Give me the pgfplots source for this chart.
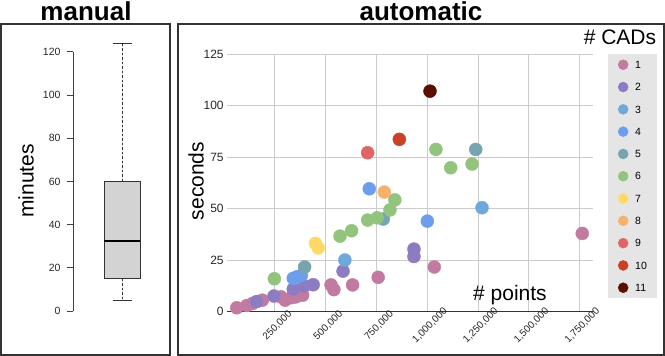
\documentclass[border=0pt]{standalone}
\usepackage{fontspec}
\setmainfont{Liberation Sans}
\usepackage{pgfplots}
\pgfplotsset{compat=1.18}
\usepgfplotslibrary{statistics}

\definecolor{c1}{HTML}{C27BA0}
\definecolor{c2}{HTML}{8E7CC3}
\definecolor{c3}{HTML}{6FA8DC}
\definecolor{c4}{HTML}{6D9EEB}
\definecolor{c5}{HTML}{76A5AF}
\definecolor{c6}{HTML}{93C47D}
\definecolor{c7}{HTML}{FFD966}
\definecolor{c8}{HTML}{F6B26B}
\definecolor{c9}{HTML}{E06666}
\definecolor{c10}{HTML}{CC4125}
\definecolor{c11}{HTML}{5B0F00}
\definecolor{frame}{HTML}{333333}
\definecolor{gridc}{HTML}{CCCCCC}
\definecolor{legbg}{HTML}{E5E5E5}
\definecolor{boxfill}{HTML}{D3D3D3}

\begin{document}
\begin{tikzpicture}
% panel frames and titles
\draw[frame, line width=1.4pt] (1pt,1pt) rectangle (170pt,332pt);
\draw[frame, line width=1.4pt] (178pt,1pt) rectangle (664pt,332pt);
\node[anchor=base, font=\fontsize{26}{28}\selectfont\bfseries] at (86pt,335pt) {manual};
\node[anchor=base, font=\fontsize{26}{28}\selectfont\bfseries] at (421pt,335pt) {automatic};
\node[rotate=90, font=\fontsize{21}{24}\selectfont] at (26pt,175pt) {minutes};
\node[rotate=90, font=\fontsize{21}{24}\selectfont] at (196pt,175pt) {seconds};
\node[anchor=base, font=\fontsize{21}{24}\selectfont] at (620pt,311pt) {\# CADs};

% manual: boxplot
\begin{axis}[at={(73pt,45pt)}, anchor=south west, scale only axis,
  width=97pt, height=259.2pt, xmin=0, xmax=97, ymin=0, ymax=120, clip=false,
  hide x axis, axis y line*=left,
  axis line style={-, black!75, line width=0.8pt},
  ytick={0,20,...,120}, tick align=outside, major tick length=6pt,
  tick style={black!75, line width=0.8pt},
  yticklabel style={xshift=-3pt, font=\fontsize{10.5}{12}\selectfont, text=black!85},
  /pgf/number format/assume math mode=true,
  boxplot/draw direction=y,
  boxplot/draw/lower whisker/.code={
    \draw[black!80, dash pattern=on 2.5pt off 2pt]
      (boxplot box cs:\pgfplotsboxplotvalue{lower quartile},0.5) --
      (boxplot box cs:\pgfplotsboxplotvalue{lower whisker},0.5);
    \draw[black!80] (boxplot whisker cs:\pgfplotsboxplotvalue{lower whisker},0) --
      (boxplot whisker cs:\pgfplotsboxplotvalue{lower whisker},1);
  },
  boxplot/draw/upper whisker/.code={
    \draw[black!80, dash pattern=on 2.5pt off 2pt]
      (boxplot box cs:\pgfplotsboxplotvalue{upper quartile},0.5) --
      (boxplot box cs:\pgfplotsboxplotvalue{upper whisker},0.5);
    \draw[black!80] (boxplot whisker cs:\pgfplotsboxplotvalue{upper whisker},0) --
      (boxplot whisker cs:\pgfplotsboxplotvalue{upper whisker},1);
  },
  boxplot/every median/.style={line width=2pt, black}]
\addplot[draw=black!80, fill=boxfill, line width=0.8pt,
  boxplot prepared={median=32.5, lower quartile=15, upper quartile=60,
    lower whisker=5, upper whisker=124, draw position=49,
    box extend=36, whisker extend=19}]
  coordinates {};
\end{axis}

% automatic: scatter
\begin{axis}[at={(227.2pt,44.3pt)}, anchor=south west, scale only axis,
  width=365.8pt, height=257.4pt,
  xmin=15000, xmax=1815000, ymin=0, ymax=125,
  xtick={250000,500000,750000,1000000,1250000,1500000,1750000},
  ytick={0,25,50,75,100,125},
  separate axis lines, axis lines*=left,
  y axis line style={draw=none},
  x axis line style={-, frame, line width=1.4pt},
  major tick length=0pt, grid=major, grid style={gridc, line width=1pt},
  scaled x ticks=false,
  xticklabel style={anchor=center, xshift=2.5pt, yshift=-14pt, rotate=45, font=\fontsize{10}{11}\selectfont, text=black!85},
  yticklabel style={font=\fontsize{12}{14}\selectfont, text=black!85},
  /pgf/number format/.cd, fixed, 1000 sep={,}, assume math mode=true, /pgfplots/.cd,
  legend style={at={(1.041,1.001)}, anchor=north west, fill=legbg, draw=none,
    font=\fontsize{10.5}{12}\selectfont, row sep=12.3pt, inner xsep=10pt, inner ysep=5.5pt,
    nodes={font=\fontsize{10.5}{12}\selectfont, inner sep=0pt, text height=7.5pt, text depth=0pt},
    /tikz/every odd column/.append style={column sep=7pt}},
  legend cell align=left,
  legend image code/.code={\draw[#1, mark size=5pt] plot coordinates {(0pt,0pt)};},
  every axis plot/.append style={only marks, mark=*, mark size=6.5pt}]
\addplot[c1, mark options={fill=c1, draw=c1}] coordinates {
  (62000,1.9) (112000,3.0) (140000,4.0) (188000,5.6)
  (280000,7.2) (300000,5.6) (330000,6.8) (352000,7.2) (386000,8.0)
  (526000,13.0) (540000,10.7) (632000,13.0) (758000,16.7)
  (1034000,21.7) (1762000,38.0)};
\addlegendentry{1}
\addplot[c2, mark options={fill=c2, draw=c2}] coordinates {
  (160000,4.9) (245000,7.6) (340000,11.0) (395000,12.5) (438000,13.1)
  (585000,19.7) (934000,30.4) (934000,26.8)};
\addlegendentry{2}
\addplot[c3, mark options={fill=c3, draw=c3}] coordinates {
  (594000,25.1) (1269000,50.5)};
\addlegendentry{3}
\addplot[c4, mark options={fill=c4, draw=c4}] coordinates {
  (340000,16.2) (360000,17.0) (380000,17.6) (714000,59.7) (1000000,44.0)};
\addlegendentry{4}
\addplot[c5, mark options={fill=c5, draw=c5}] coordinates {
  (396000,21.7) (783000,45.0) (1238000,78.8)};
\addlegendentry{5}
\addplot[c6, mark options={fill=c6, draw=c6}] coordinates {
  (247000,16.0) (570000,36.7) (627000,39.3) (706000,44.5) (753000,45.6)
  (816000,49.4) (840000,54.3) (1042000,78.8) (1115000,69.9) (1220000,71.7)};
\addlegendentry{6}
\addplot[c7, mark options={fill=c7, draw=c7}] coordinates {
  (449000,33.2) (463000,31.0)};
\addlegendentry{7}
\addplot[c8, mark options={fill=c8, draw=c8}] coordinates {
  (788000,58.1)};
\addlegendentry{8}
\addplot[c9, mark options={fill=c9, draw=c9}] coordinates {
  (706000,77.2)};
\addlegendentry{9}
\addplot[c10, mark options={fill=c10, draw=c10}] coordinates {
  (862000,83.7)};
\addlegendentry{10}
\addplot[c11, mark options={fill=c11, draw=c11}] coordinates {
  (1013000,107.1)};
\addlegendentry{11}
\end{axis}

\node[anchor=base, font=\fontsize{21}{24}\selectfont] at (510pt,55pt) {\# points};
\pgfresetboundingbox
\path (0pt,0pt) rectangle (665pt,356pt);
\end{tikzpicture}
\end{document}
